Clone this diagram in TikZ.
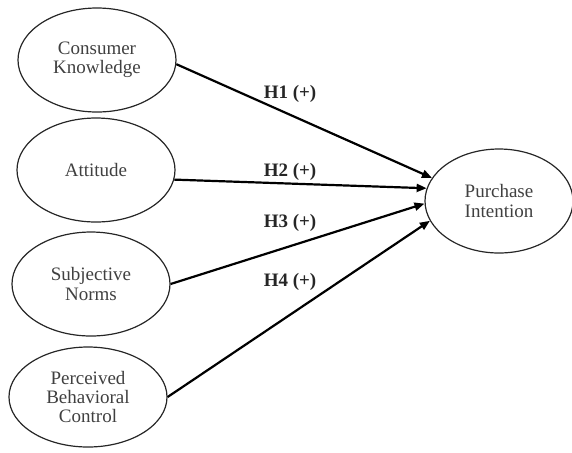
\documentclass[tikz,border=0pt]{standalone}
\usepackage{fontspec}
\setmainfont{Liberation Serif}
\usetikzlibrary{shapes.geometric,arrows.meta}
\begin{document}
\begin{tikzpicture}[x=0.5pt,y=-0.5pt,
  construct/.style={ellipse,draw=black!85,line width=0.6pt,inner sep=0pt,
    minimum width=79pt,minimum height=52pt,align=center,
    font=\fontsize{9.5}{9.6}\selectfont,text=black!75},
  path/.style={line width=1.1pt,-{Triangle[length=5pt,width=4pt]}},
  hyp/.style={font=\bfseries\fontsize{9.5}{11}\selectfont,text=black!85}]
\useasboundingbox (0,0) rectangle (572,452);
\node[construct] (ck) at (97,60) {Consumer\\Knowledge};
\node[construct] (at) at (96,170) {Attitude};
\node[construct] (sn) at (91,284) {Subjective\\Norms};
\node[construct,minimum height=50pt] (pbc) at (88,397) {Perceived\\Behavioral\\Control};
\node[construct,minimum width=74pt] (pi) at (499,201) {Purchase\\Intention};
\draw[path] (ck.-3) -- (pi.161);
\draw[path] (at.-7) -- (pi.170);
\draw[path] (sn.east) -- (pi.182);
\draw[path] (pbc.east) -- (pi.196);
\node[hyp] (h1) at (290,94) {H1 (+)};
\node[hyp] (h2) at (290,172) {H2 (+)};
\node[hyp] (h3) at (290,223) {H3 (+)};
\node[hyp] (h4) at (290,282) {H4 (+)};
\end{tikzpicture}
\end{document}
